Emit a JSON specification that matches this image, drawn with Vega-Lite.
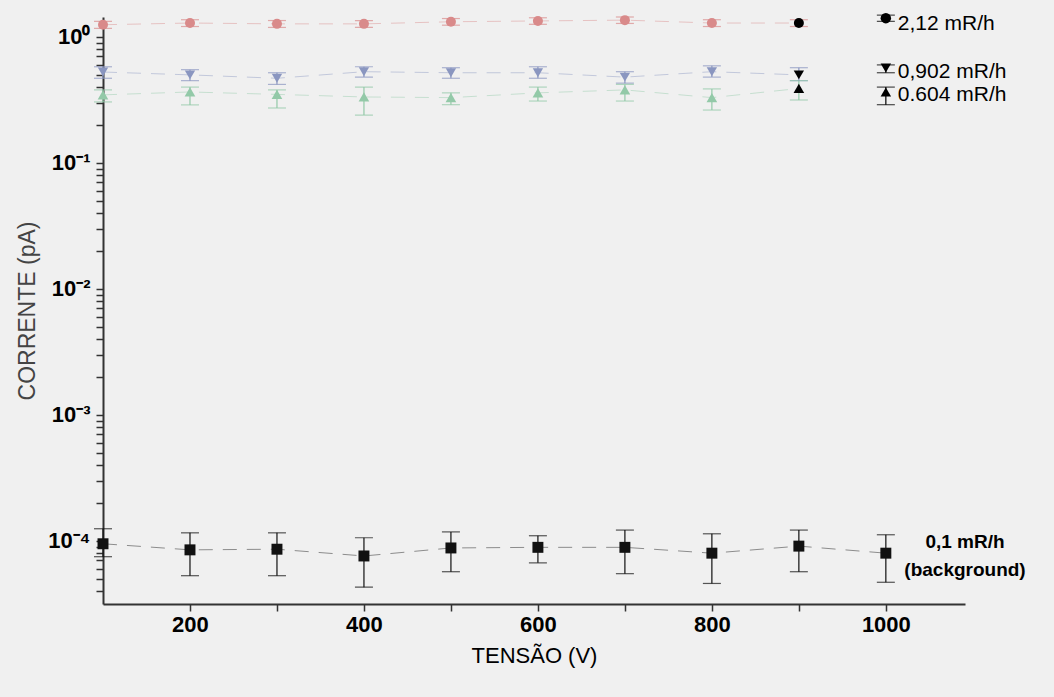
{
  "$schema": "https://vega.github.io/schema/vega-lite/v6.json",
  "width": 862,
  "height": 587,
  "autosize": {"type": "none"},
  "padding": {"left": 103, "top": 17, "right": 89, "bottom": 93},
  "background": "#f0f0f0",
  "config": {"view": {"stroke": null}, "font": "Liberation Sans"},
  "datasets": {
    "pts": [
      {"s": "2,12", "v": 100, "y": 1.25, "lo": 1.17, "hi": 1.33},
      {"s": "2,12", "v": 200, "y": 1.29, "lo": 1.21, "hi": 1.37},
      {"s": "2,12", "v": 300, "y": 1.27, "lo": 1.19, "hi": 1.35},
      {"s": "2,12", "v": 400, "y": 1.27, "lo": 1.19, "hi": 1.35},
      {"s": "2,12", "v": 500, "y": 1.32, "lo": 1.24, "hi": 1.40},
      {"s": "2,12", "v": 600, "y": 1.34, "lo": 1.26, "hi": 1.42},
      {"s": "2,12", "v": 700, "y": 1.36, "lo": 1.28, "hi": 1.44},
      {"s": "2,12", "v": 800, "y": 1.29, "lo": 1.21, "hi": 1.37},
      {"s": "2,12", "v": 900, "y": 1.29, "lo": 1.21, "hi": 1.37},
      {"s": "0,902", "v": 100, "y": 0.527, "lo": 0.47, "hi": 0.58},
      {"s": "0,902", "v": 200, "y": 0.50, "lo": 0.45, "hi": 0.55},
      {"s": "0,902", "v": 300, "y": 0.47, "lo": 0.42, "hi": 0.52},
      {"s": "0,902", "v": 400, "y": 0.53, "lo": 0.48, "hi": 0.58},
      {"s": "0,902", "v": 500, "y": 0.52, "lo": 0.47, "hi": 0.57},
      {"s": "0,902", "v": 600, "y": 0.52, "lo": 0.47, "hi": 0.58},
      {"s": "0,902", "v": 700, "y": 0.48, "lo": 0.43, "hi": 0.53},
      {"s": "0,902", "v": 800, "y": 0.53, "lo": 0.48, "hi": 0.59},
      {"s": "0,902", "v": 900, "y": 0.50, "lo": 0.45, "hi": 0.57},
      {"s": "0.604", "v": 100, "y": 0.347, "lo": 0.305, "hi": 0.38},
      {"s": "0.604", "v": 200, "y": 0.366, "lo": 0.289, "hi": 0.40},
      {"s": "0.604", "v": 300, "y": 0.35, "lo": 0.273, "hi": 0.38},
      {"s": "0.604", "v": 400, "y": 0.334, "lo": 0.24, "hi": 0.40},
      {"s": "0.604", "v": 500, "y": 0.33, "lo": 0.29, "hi": 0.36},
      {"s": "0.604", "v": 600, "y": 0.36, "lo": 0.31, "hi": 0.40},
      {"s": "0.604", "v": 700, "y": 0.38, "lo": 0.31, "hi": 0.42},
      {"s": "0.604", "v": 800, "y": 0.33, "lo": 0.263, "hi": 0.387},
      {"s": "0.604", "v": 900, "y": 0.39, "lo": 0.316, "hi": 0.45},
      {"s": "0,1", "v": 100, "y": 9.5e-5, "lo": 7.5e-5, "hi": 1.25e-4},
      {"s": "0,1", "v": 200, "y": 8.5e-5, "lo": 5.3e-5, "hi": 1.16e-4},
      {"s": "0,1", "v": 300, "y": 8.6e-5, "lo": 5.3e-5, "hi": 1.16e-4},
      {"s": "0,1", "v": 400, "y": 7.6e-5, "lo": 4.3e-5, "hi": 1.06e-4},
      {"s": "0,1", "v": 500, "y": 8.8e-5, "lo": 5.7e-5, "hi": 1.18e-4},
      {"s": "0,1", "v": 600, "y": 8.9e-5, "lo": 6.7e-5, "hi": 1.10e-4},
      {"s": "0,1", "v": 700, "y": 8.9e-5, "lo": 5.5e-5, "hi": 1.22e-4},
      {"s": "0,1", "v": 800, "y": 8.0e-5, "lo": 4.6e-5, "hi": 1.14e-4},
      {"s": "0,1", "v": 900, "y": 9.1e-5, "lo": 5.7e-5, "hi": 1.22e-4},
      {"s": "0,1", "v": 1000, "y": 8.0e-5, "lo": 4.7e-5, "hi": 1.12e-4}
    ],
    "leg": [
      {"s": "2,12", "v": 1000, "y": 1.41, "lo": 1.33, "hi": 1.49, "ty": 1.27, "label": "2,12 mR/h"},
      {"s": "0,902", "v": 1000, "y": 0.567, "lo": 0.52, "hi": 0.60, "ty": 0.53, "label": "0,902 mR/h"},
      {"s": "0.604", "v": 1000, "y": 0.366, "lo": 0.29, "hi": 0.40, "ty": 0.345, "label": "0.604 mR/h"}
    ],
    "bg": [
      {"v": 1091, "ty": 9.8e-5, "label": "0,1 mR/h"},
      {"v": 1091, "ty": 5.9e-5, "label": "(background)"}
    ]
  },
  "encoding": {
    "x": {
      "field": "v", "type": "quantitative",
      "scale": {"domain": [100, 1091], "nice": false, "zero": false},
      "axis": {
        "title": "TENSÃO (V)", "titleFontSize": 22, "titleFontWeight": "normal", "titleColor": "#000", "titlePadding": 10,
        "values": [200, 300, 400, 500, 600, 700, 800, 900, 1000],
        "format": "d",
        "labelExpr": "datum.value % 200 == 0 ? datum.label : ''",
        "labelFontSize": 22, "labelFontWeight": "bold", "labelColor": "#000", "labelPadding": 3,
        "domainColor": "#333", "domainWidth": 2,
        "tickColor": "#333", "tickWidth": 1.5,
        "tickSize": 7,
        "grid": false
      }
    },
    "y": {
      "field": "y", "type": "quantitative",
      "scale": {"type": "log", "domain": [3.16e-5, 1.44], "nice": false},
      "axis": {
        "title": "CORRENTE (pA)", "titleFontSize": 23, "titleFontWeight": "normal", "titleColor": "#444", "titlePadding": 8,
        "values": [4e-5, 5e-5, 6e-5, 7e-5, 8e-5, 9e-5, 0.0001, 0.0002, 0.0003, 0.0004, 0.0005, 0.0006, 0.0007, 0.0008, 0.0009, 0.001, 0.002, 0.003, 0.004, 0.005, 0.006, 0.007, 0.008, 0.009, 0.01, 0.02, 0.03, 0.04, 0.05, 0.06, 0.07, 0.08, 0.09, 0.1, 0.2, 0.3, 0.4, 0.5, 0.6, 0.7, 0.8, 0.9, 1],
        "labelExpr": "datum.value == 1 ? '10⁰' : datum.value == 0.1 ? '10⁻¹' : datum.value == 0.01 ? '10⁻²' : datum.value == 0.001 ? '10⁻³' : datum.value == 0.0001 ? '10⁻⁴' : ''",
        "labelFontSize": 22, "labelFontWeight": "bold", "labelColor": "#000", "labelPadding": 6,
        "labelOverlap": false,
        "domainColor": "#333", "domainWidth": 2,
        "ticks": true,
        "tickColor": "#333", "tickWidth": 1.5,
        "tickSize": 7,
        "grid": false
      }
    }
  },
  "layer": [
    {
      "data": {"name": "pts"},
      "mark": {"type": "line", "strokeWidth": 1, "strokeDash": [14, 10], "opacity": 0.45},
      "encoding": {
        "detail": {"field": "s"},
        "color": {"field": "s", "type": "nominal", "scale": {"domain": ["2,12", "0,902", "0.604", "0,1"], "range": ["#d98a8a", "#8a96c0", "#93c9a8", "#111111"]}, "legend": null}
      }
    },
    {
      "data": {"name": "pts"},
      "mark": {"type": "errorbar", "ticks": {"size": 18}, "thickness": 1.2},
      "encoding": {
        "y": {"field": "lo", "type": "quantitative", "title": "CORRENTE (pA)"},
        "y2": {"field": "hi"},
        "color": {"field": "s", "type": "nominal", "scale": {"domain": ["2,12", "0,902", "0.604", "0,1"], "range": ["#d98a8a", "#6a7aae", "#86c49e", "#222222"]}, "legend": null}
      }
    },
    {
      "data": {"name": "pts"},
      "mark": {"type": "point", "filled": true, "opacity": 1},
      "encoding": {
        "shape": {"field": "s", "type": "nominal", "scale": {"domain": ["2,12", "0,902", "0.604", "0,1"], "range": ["circle", "triangle-down", "triangle-up", "square"]}, "legend": null},
        "size": {"field": "s", "type": "nominal", "scale": {"domain": ["2,12", "0,902", "0.604", "0,1"], "range": [100, 120, 120, 150]}, "legend": null},
        "color": {
          "condition": {"test": "datum.v == 900 && datum.s != '0,1'", "value": "#000000"},
          "field": "s", "type": "nominal",
          "scale": {"domain": ["2,12", "0,902", "0.604", "0,1"], "range": ["#e28a8a", "#5f70a8", "#7cc59a", "#111111"]},
          "legend": null
        }
      }
    },
    {
      "data": {"name": "leg"},
      "mark": {"type": "errorbar", "ticks": {"size": 18}, "thickness": 1.2, "color": "#000"},
      "encoding": {
        "y": {"field": "lo", "type": "quantitative", "title": "CORRENTE (pA)"},
        "y2": {"field": "hi"}
      }
    },
    {
      "data": {"name": "leg"},
      "mark": {"type": "point", "filled": true, "color": "#000", "opacity": 1},
      "encoding": {
        "shape": {"field": "s", "type": "nominal", "scale": {"domain": ["2,12", "0,902", "0.604", "0,1"], "range": ["circle", "triangle-down", "triangle-up", "square"]}, "legend": null},
        "size": {"value": 110}
      }
    },
    {
      "data": {"name": "leg"},
      "mark": {"type": "text", "align": "left", "baseline": "middle", "dx": 12, "fontSize": 21, "color": "#000"},
      "encoding": {
        "y": {"field": "ty", "type": "quantitative", "title": "CORRENTE (pA)"},
        "text": {"field": "label"}
      }
    },
    {
      "data": {"name": "bg"},
      "mark": {"type": "text", "align": "center", "baseline": "middle", "fontSize": 19, "fontWeight": "bold", "color": "#000"},
      "encoding": {
        "y": {"field": "ty", "type": "quantitative", "title": "CORRENTE (pA)"},
        "text": {"field": "label"}
      }
    }
  ]
}
